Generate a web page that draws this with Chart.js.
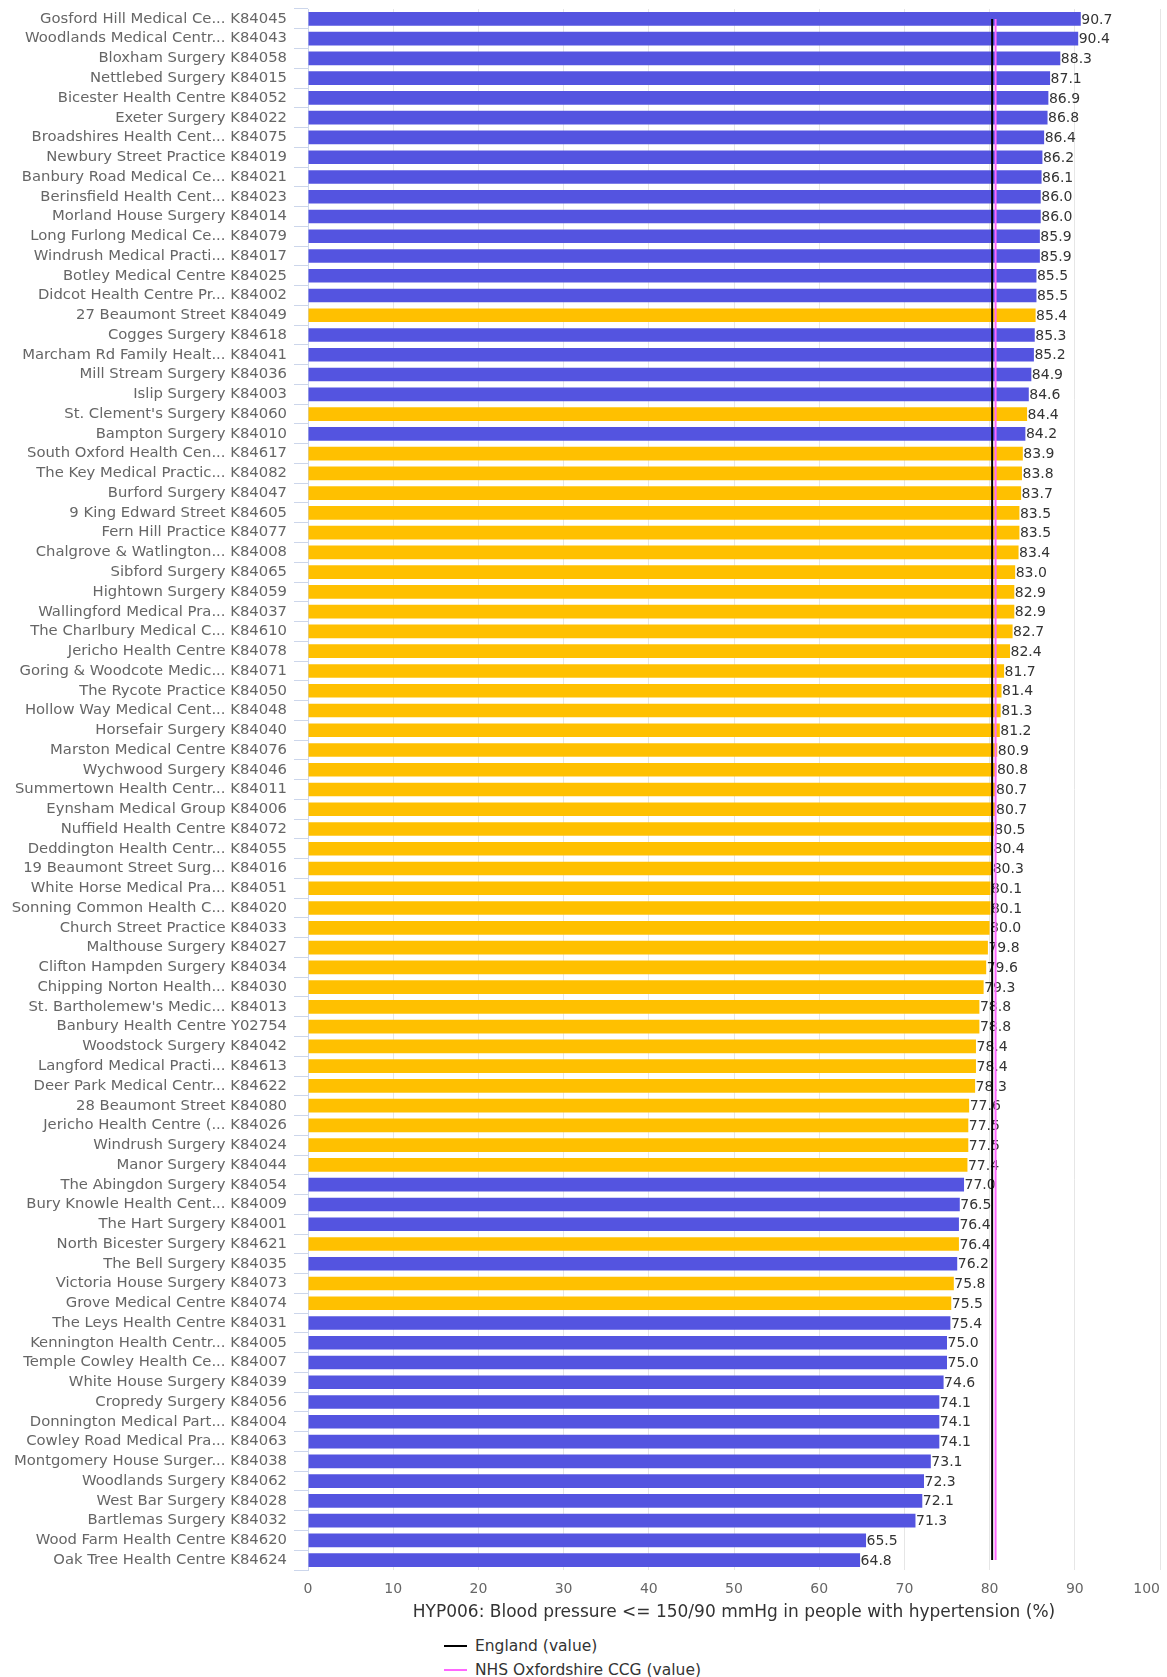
<!DOCTYPE html>
<html>
<head>
<meta charset="utf-8">
<script src="https://cdn.jsdelivr.net/npm/chart.js@4.4.0/dist/chart.umd.min.js"></script>
<style>
  body { margin: 0; background: #fff; font-family: "DejaVu Sans", sans-serif; }
  #wrap { position: relative; width: 1167px; height: 1632px; }
  #legend { position: absolute; left: 444px; top: 1634px; }
  .item { display: flex; align-items: center; height: 24px; font-size: 15.5px; color: #333; white-space: nowrap; }
  .sw { width: 23px; height: 2px; margin-right: 8px; }
</style>
</head>
<body>
<div id="wrap"><canvas id="c"></canvas></div>
<div id="legend">
  <div class="item"><span class="sw" style="background:#000"></span><span>England (value)</span></div>
  <div class="item"><span class="sw" style="background:#ff66ff"></span><span>NHS Oxfordshire CCG (value)</span></div>
</div>
<script>
const practices = [
  "Gosford Hill Medical Ce... K84045",
  "Woodlands Medical Centr... K84043",
  "Bloxham Surgery K84058",
  "Nettlebed Surgery K84015",
  "Bicester Health Centre K84052",
  "Exeter Surgery K84022",
  "Broadshires Health Cent... K84075",
  "Newbury Street Practice K84019",
  "Banbury Road Medical Ce... K84021",
  "Berinsfield Health Cent... K84023",
  "Morland House Surgery K84014",
  "Long Furlong Medical Ce... K84079",
  "Windrush Medical Practi... K84017",
  "Botley Medical Centre K84025",
  "Didcot Health Centre Pr... K84002",
  "27 Beaumont Street K84049",
  "Cogges Surgery K84618",
  "Marcham Rd Family Healt... K84041",
  "Mill Stream Surgery K84036",
  "Islip Surgery K84003",
  "St. Clement's Surgery K84060",
  "Bampton Surgery K84010",
  "South Oxford Health Cen... K84617",
  "The Key Medical Practic... K84082",
  "Burford Surgery K84047",
  "9 King Edward Street K84605",
  "Fern Hill Practice K84077",
  "Chalgrove & Watlington... K84008",
  "Sibford Surgery K84065",
  "Hightown Surgery K84059",
  "Wallingford Medical Pra... K84037",
  "The Charlbury Medical C... K84610",
  "Jericho Health Centre K84078",
  "Goring & Woodcote Medic... K84071",
  "The Rycote Practice K84050",
  "Hollow Way Medical Cent... K84048",
  "Horsefair Surgery K84040",
  "Marston Medical Centre K84076",
  "Wychwood Surgery K84046",
  "Summertown Health Centr... K84011",
  "Eynsham Medical Group K84006",
  "Nuffield Health Centre K84072",
  "Deddington Health Centr... K84055",
  "19 Beaumont Street Surg... K84016",
  "White Horse Medical Pra... K84051",
  "Sonning Common Health C... K84020",
  "Church Street Practice K84033",
  "Malthouse Surgery K84027",
  "Clifton Hampden Surgery K84034",
  "Chipping Norton Health... K84030",
  "St. Bartholemew's Medic... K84013",
  "Banbury Health Centre Y02754",
  "Woodstock Surgery K84042",
  "Langford Medical Practi... K84613",
  "Deer Park Medical Centr... K84622",
  "28 Beaumont Street K84080",
  "Jericho Health Centre (... K84026",
  "Windrush Surgery K84024",
  "Manor Surgery K84044",
  "The Abingdon Surgery K84054",
  "Bury Knowle Health Cent... K84009",
  "The Hart Surgery K84001",
  "North Bicester Surgery K84621",
  "The Bell Surgery K84035",
  "Victoria House Surgery K84073",
  "Grove Medical Centre K84074",
  "The Leys Health Centre K84031",
  "Kennington Health Centr... K84005",
  "Temple Cowley Health Ce... K84007",
  "White House Surgery K84039",
  "Cropredy Surgery K84056",
  "Donnington Medical Part... K84004",
  "Cowley Road Medical Pra... K84063",
  "Montgomery House Surger... K84038",
  "Woodlands Surgery K84062",
  "West Bar Surgery K84028",
  "Bartlemas Surgery K84032",
  "Wood Farm Health Centre K84620",
  "Oak Tree Health Centre K84624"
];

const values = [
  90.7, 90.4, 88.3, 87.1, 86.9, 86.8, 86.4, 86.2, 86.1, 86.0,
  86.0, 85.9, 85.9, 85.5, 85.5, 85.4, 85.3, 85.2, 84.9, 84.6,
  84.4, 84.2, 83.9, 83.8, 83.7, 83.5, 83.5, 83.4, 83.0, 82.9,
  82.9, 82.7, 82.4, 81.7, 81.4, 81.3, 81.2, 80.9, 80.8, 80.7,
  80.7, 80.5, 80.4, 80.3, 80.1, 80.1, 80.0, 79.8, 79.6, 79.3,
  78.8, 78.8, 78.4, 78.4, 78.3, 77.6, 77.5, 77.5, 77.4, 77.0,
  76.5, 76.4, 76.4, 76.2, 75.8, 75.5, 75.4, 75.0, 75.0, 74.6,
  74.1, 74.1, 74.1, 73.1, 72.3, 72.1, 71.3, 65.5, 64.8
];

// "D" = significantly different from England, "S" = similar
const comparison = [
  "D","D","D","D","D","D","D","D","D","D",
  "D","D","D","D","D","S","D","D","D","D",
  "S","D","S","S","S","S","S","S","S","S",
  "S","S","S","S","S","S","S","S","S","S",
  "S","S","S","S","S","S","S","S","S","S",
  "S","S","S","S","S","S","S","S","S","D",
  "D","D","S","D","S","S","D","D","D","D",
  "D","D","D","D","D","D","D","D","D"
];

const englandValue = 80.3;
const ccgValue = 80.7;

const xTicks = [0, 10, 20, 30, 40, 50, 60, 70, 80, 90, 100];
const axisTitle = "HYP006: Blood pressure <= 150/90 mmHg in people with hypertension (%)";

const COLOR_DIFF = "#5454e0";
const COLOR_SIM = "#ffc000";
const barColors = comparison.map(c => c === "D" ? COLOR_DIFF : COLOR_SIM);

const FONT = "'DejaVu Sans', sans-serif";
const X_TICK_SIZE = 14;
const X_TICK_PAD = 11;

const valueLabels = {
  id: "valueLabels",
  afterDatasetDraw(chart, args) {
    if (args.index !== 0) return;
    const ctx = chart.ctx;
    ctx.save();
    ctx.font = "14px " + FONT;
    ctx.fillStyle = "#333";
    ctx.textAlign = "left";
    ctx.textBaseline = "middle";
    args.meta.data.forEach((bar, i) => {
      ctx.fillText(values[i].toFixed(1), bar.x + 0.5, bar.y + 1);
    });
    ctx.restore();
  }
};

// Draw the last x tick label right-aligned to its tick so it stays inside the canvas
const lastTickLabel = {
  id: "lastTickLabel",
  afterDraw(chart) {
    const s = chart.scales.x;
    const v = xTicks[xTicks.length - 1];
    const ctx = chart.ctx;
    ctx.save();
    ctx.font = X_TICK_SIZE + "px " + FONT;
    ctx.fillStyle = "#666";
    ctx.textAlign = "right";
    ctx.textBaseline = "middle";
    ctx.fillText(String(v), s.getPixelForValue(v), s.top + X_TICK_PAD + X_TICK_SIZE * 0.6);
    ctx.restore();
  }
};

new Chart(document.getElementById("c"), {
  type: "bar",
  data: {
    labels: practices,
    datasets: [
      {
        type: "bar",
        label: "Value",
        data: values,
        backgroundColor: barColors,
        barPercentage: 0.69,
        categoryPercentage: 1,
        order: 2
      },
      {
        type: "line",
        label: "England (value)",
        indexAxis: "y",
        data: [{ x: englandValue, y: practices[0] }, { x: englandValue, y: practices[practices.length - 1] }],
        borderColor: "#000",
        borderWidth: 2,
        pointRadius: 0,
        order: 1
      },
      {
        type: "line",
        label: "NHS Oxfordshire CCG (value)",
        indexAxis: "y",
        data: [{ x: ccgValue, y: practices[0] }, { x: ccgValue, y: practices[practices.length - 1] }],
        borderColor: "#ff66ff",
        borderWidth: 2,
        pointRadius: 0,
        order: 0
      }
    ]
  },
  options: {
    indexAxis: "y",
    responsive: true,
    maintainAspectRatio: false,
    animation: false,
    layout: { padding: { top: 9, right: 7, left: 0, bottom: 0 } },
    plugins: { legend: { display: false }, tooltip: { enabled: false } },
    scales: {
      x: {
        type: "linear",
        min: 0,
        max: 100,
        afterBuildTicks(s) { s.ticks = xTicks.map(v => ({ value: v })); },
        ticks: {
          font: { family: FONT, size: X_TICK_SIZE },
          color: "#666",
          padding: X_TICK_PAD,
          callback: (v) => (v === xTicks[xTicks.length - 1] ? "" : String(v))
        },
        grid: { color: "#e6e6e6", drawTicks: false },
        border: { display: false },
        title: {
          display: true,
          text: axisTitle,
          font: { family: FONT, size: 17 },
          color: "#333",
          padding: { top: 0, bottom: 9 }
        },
        afterFit(s) { s.height = 62; s.paddingLeft = 0; s.paddingRight = 0; }
      },
      y: {
        ticks: { autoSkip: false, font: { family: FONT, size: 14.8 }, color: "#666", padding: 7 },
        grid: { drawOnChartArea: false, color: "#ccd6eb", tickLength: 14, offset: true },
        border: { color: "#ccd6eb" },
        afterFit(s) { s.width = 308; s.paddingTop = 0; s.paddingBottom = 0; }
      }
    }
  },
  plugins: [valueLabels, lastTickLabel]
});
</script>
</body>
</html>
